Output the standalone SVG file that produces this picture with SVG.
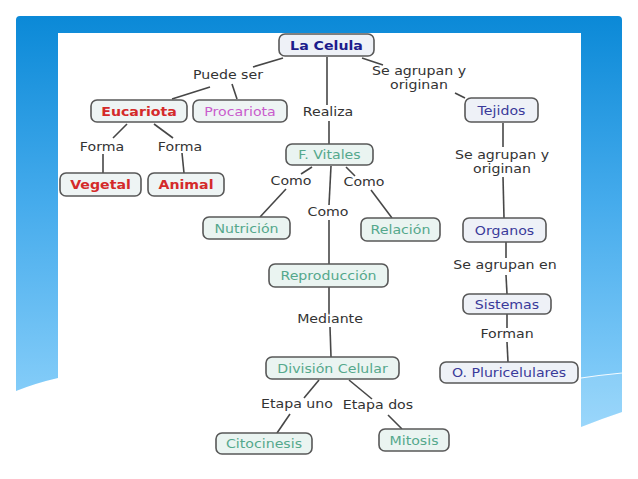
<svg xmlns="http://www.w3.org/2000/svg" width="638" height="479" viewBox="0 0 638 479">
<defs>
<linearGradient id="bg" x1="0" y1="16" x2="0" y2="430" gradientUnits="userSpaceOnUse">
<stop offset="0" stop-color="#0b89d7"/>
<stop offset="0.45" stop-color="#45abec"/>
<stop offset="1" stop-color="#90d3fb"/>
</linearGradient>
<style>
.box{stroke:#585858;stroke-width:1.6}
.b1{fill:#eef1f7}
.b2{fill:#eef4f4}
.b3{fill:#eaf4f1}
text{font-family:"DejaVu Sans","Verdana",sans-serif;font-size:11.8px;text-anchor:middle}
.lbl{fill:#333}
.navy{fill:#3a3a9a}
.top{fill:#1c1c8c;font-weight:bold}
.red{fill:#d42a2a;font-weight:bold}
.mag{fill:#c95ccc}
.teal{fill:#55a88c}
.conn line{stroke:#474747;stroke-width:1.6}
</style>
</defs>
<rect width="638" height="479" fill="#ffffff"/>
<path d="M16,20 Q16,16 20,16 L618,16 Q622,16 622,20 L622,412 Q601,419 581,427 L58,378 Q36,383 16,391 Z" fill="url(#bg)"/>
<path d="M581,378 Q601,375 622,373 L622,412 Q601,419 581,427 Z" fill="#ffffff" fill-opacity="0.1"/>
<path d="M581,378 Q601,375 622,373" fill="none" stroke="#ffffff" stroke-width="1.2" stroke-opacity="0.9"/>
<rect x="58" y="33" width="523" height="446" fill="#ffffff"/>

<g id="connectors" class="conn">
<line x1="283" y1="58" x2="253" y2="67"/>
<line x1="210" y1="87" x2="172" y2="99"/>
<line x1="232" y1="84" x2="237" y2="99"/>
<line x1="127" y1="124" x2="113" y2="138"/>
<line x1="154" y1="124" x2="173" y2="138"/>
<line x1="103" y1="154" x2="103" y2="173"/>
<line x1="182" y1="153" x2="184" y2="173"/>
<line x1="327" y1="57" x2="327" y2="105"/>
<line x1="329" y1="121" x2="329" y2="144"/>
<line x1="362" y1="58" x2="383" y2="65"/>
<line x1="455" y1="93" x2="465" y2="98"/>
<line x1="503" y1="123" x2="503" y2="147"/>
<line x1="503" y1="177" x2="504" y2="218"/>
<line x1="312" y1="167" x2="301" y2="174"/>
<line x1="286" y1="189" x2="260" y2="217"/>
<line x1="346" y1="167" x2="355" y2="176"/>
<line x1="371" y1="190" x2="392" y2="218"/>
<line x1="331" y1="166" x2="329" y2="205"/>
<line x1="329" y1="220" x2="329" y2="264"/>
<line x1="506" y1="242" x2="506" y2="258"/>
<line x1="506" y1="275" x2="507" y2="294"/>
<line x1="507" y1="314" x2="507" y2="328"/>
<line x1="507" y1="342" x2="508" y2="362"/>
<line x1="329" y1="287" x2="329" y2="313"/>
<line x1="330" y1="327" x2="331" y2="357"/>
<line x1="319" y1="380" x2="304" y2="398"/>
<line x1="349" y1="380" x2="372" y2="399"/>
<line x1="290" y1="414" x2="277" y2="433"/>
<line x1="388" y1="415" x2="402" y2="429"/>
</g>

<g id="labels">
<text class="lbl" transform="translate(228,79) scale(1.2,1)">Puede ser</text>
<text class="lbl" transform="translate(419,75) scale(1.2,1)">Se agrupan y</text>
<text class="lbl" transform="translate(419,89) scale(1.2,1)">originan</text>
<text class="lbl" transform="translate(328,116) scale(1.2,1)">Realiza</text>
<text class="lbl" transform="translate(102,151) scale(1.2,1)">Forma</text>
<text class="lbl" transform="translate(180,151) scale(1.2,1)">Forma</text>
<text class="lbl" transform="translate(502,159) scale(1.2,1)">Se agrupan y</text>
<text class="lbl" transform="translate(502,173) scale(1.2,1)">originan</text>
<text class="lbl" transform="translate(291,185) scale(1.2,1)">Como</text>
<text class="lbl" transform="translate(364,186) scale(1.2,1)">Como</text>
<text class="lbl" transform="translate(328,216) scale(1.2,1)">Como</text>
<text class="lbl" transform="translate(505,269) scale(1.2,1)">Se agrupan en</text>
<text class="lbl" transform="translate(330,323) scale(1.2,1)">Mediante</text>
<text class="lbl" transform="translate(507,338) scale(1.2,1)">Forman</text>
<text class="lbl" transform="translate(297,408) scale(1.2,1)">Etapa uno</text>
<text class="lbl" transform="translate(378,409) scale(1.2,1)">Etapa dos</text>
</g>

<g id="n-celula"><rect class="box b1" x="279" y="34" width="95" height="22" rx="6"/><text class="top" transform="translate(326.5,50) scale(1.2,1)">La Celula</text></g>
<g id="n-eucariota"><rect class="box b2" x="91" y="100" width="96" height="22" rx="6"/><text class="red" transform="translate(139,116) scale(1.2,1)">Eucariota</text></g>
<g id="n-procariota"><rect class="box b2" x="193" y="100" width="94" height="22" rx="6"/><text class="mag" transform="translate(240,116) scale(1.2,1)">Procariota</text></g>
<g id="n-tejidos"><rect class="box b1" x="465" y="98" width="73" height="24" rx="6"/><text class="navy" transform="translate(501.5,115) scale(1.2,1)">Tejidos</text></g>
<g id="n-fvitales"><rect class="box b3" x="286" y="144" width="87" height="21" rx="6"/><text class="teal" transform="translate(329.5,159) scale(1.2,1)">F. Vitales</text></g>
<g id="n-vegetal"><rect class="box b2" x="60" y="173" width="81" height="23" rx="6"/><text class="red" transform="translate(100.5,189) scale(1.2,1)">Vegetal</text></g>
<g id="n-animal"><rect class="box b2" x="148" y="173" width="76" height="23" rx="6"/><text class="red" transform="translate(186,189) scale(1.2,1)">Animal</text></g>
<g id="n-nutricion"><rect class="box b3" x="203" y="217" width="87" height="22" rx="6"/><text class="teal" transform="translate(246.5,232.5) scale(1.2,1)">Nutrición</text></g>
<g id="n-relacion"><rect class="box b3" x="361" y="218" width="79" height="23" rx="6"/><text class="teal" transform="translate(400.5,234) scale(1.2,1)">Relación</text></g>
<g id="n-organos"><rect class="box b1" x="463" y="218" width="83" height="24" rx="6"/><text class="navy" transform="translate(504.5,234.5) scale(1.2,1)">Organos</text></g>
<g id="n-reproduccion"><rect class="box b3" x="269" y="264" width="119" height="23" rx="6"/><text class="teal" transform="translate(328.5,280) scale(1.2,1)">Reproducción</text></g>
<g id="n-sistemas"><rect class="box b1" x="463" y="294" width="88" height="20" rx="6"/><text class="navy" transform="translate(507,308.5) scale(1.2,1)">Sistemas</text></g>
<g id="n-division"><rect class="box b3" x="266" y="357" width="133" height="22" rx="6"/><text class="teal" transform="translate(332.5,372.5) scale(1.2,1)">División Celular</text></g>
<g id="n-pluricelulares"><rect class="box b1" x="440" y="362" width="138" height="21" rx="6"/><text class="navy" transform="translate(509,377) scale(1.2,1)">O. Pluricelulares</text></g>
<g id="n-citocinesis"><rect class="box b3" x="216" y="433" width="96" height="21" rx="6"/><text class="teal" transform="translate(264,448) scale(1.2,1)">Citocinesis</text></g>
<g id="n-mitosis"><rect class="box b3" x="379" y="429" width="70" height="22" rx="6"/><text class="teal" transform="translate(414,444.5) scale(1.2,1)">Mitosis</text></g>
</svg>
